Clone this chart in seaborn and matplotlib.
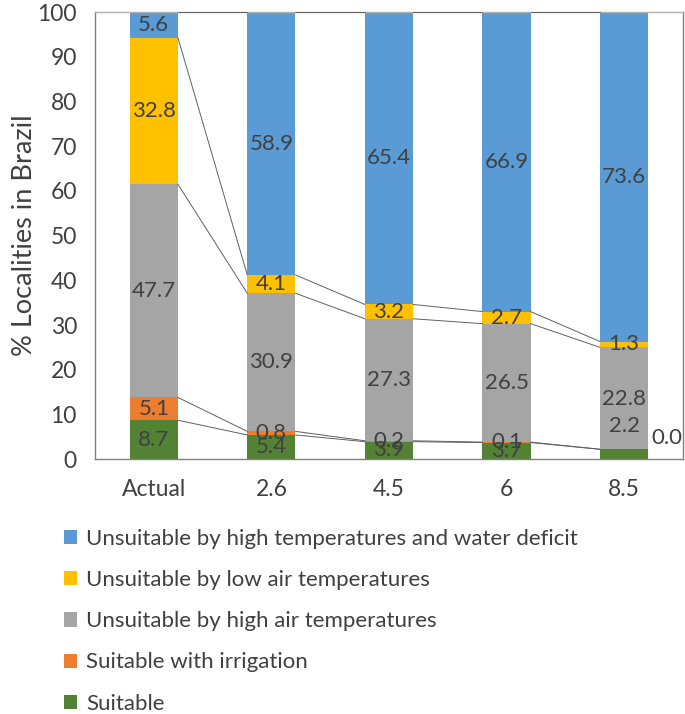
import numpy as np
import seaborn as sns
import matplotlib.pyplot as plt
from matplotlib.patches import Patch

scenarios = ["Actual", "2.6", "4.5", "6", "8.5"]
suitable = [8.7, 5.4, 3.9, 3.7, 2.2]
irrigation = [5.1, 0.8, 0.2, 0.1, 0.0]
high_air = [47.7, 30.9, 27.3, 26.5, 22.8]
low_air = [32.8, 4.1, 3.2, 2.7, 1.3]
water_deficit = [5.6, 58.9, 65.4, 66.9, 73.6]

names = ["Suitable", "Suitable with irrigation", "Unsuitable by high air temperatures",
         "Unsuitable by low air temperatures",
         "Unsuitable by high temperatures and water deficit"]
colors = ["#548235", "#ED7D31", "#A5A5A5", "#FFC000", "#5B9BD5"]

sns.set_style("white")
plt.rcParams['font.family'] = ['Lato', 'DejaVu Sans']
txt = "#404040"

layers = [suitable, irrigation, high_air, low_air, water_deficit]
vals = np.array(layers)
tops = vals.cumsum(axis=0)
tops[-1] = 100.0  # Excel-style 100% stacking
bottoms = np.vstack([np.zeros(len(scenarios)), tops[:-1]])

fig = plt.figure(figsize=(6.85, 7.14), dpi=100)
ax = fig.add_axes([0.1387, 0.357, 0.997 - 0.1387, 0.983 - 0.357])

w = 0.41
# draw from the tallest cumulative layer down so each shows its own segment
for i in range(len(layers) - 1, -1, -1):
    sns.barplot(x=scenarios, y=tops[i], color=colors[i], width=w,
                saturation=1, ax=ax, edgecolor="none", linewidth=0)

# series lines between bars
for i in range(len(layers)):
    for j in range(len(scenarios) - 1):
        ax.plot([j + w / 2, j + 1 - w / 2], [tops[i][j], tops[i][j + 1]],
                color="#606060", lw=0.7, zorder=3)

# data labels
for i in range(len(layers)):
    for j in range(len(scenarios)):
        y = (bottoms[i][j] + tops[i][j]) / 2
        x = j
        ha = "center"
        if j == 4 and i == 0:
            y = 7.4
        if j == 4 and i == 1:
            x, y, ha = j + w / 2 + 0.03, 4.7, "left"
        if j == 4 and i == 2:
            y = 13.5
        ax.text(x, y, f"{vals[i][j]:.1f}", ha=ha, va="center",
                fontsize=16, color=txt, zorder=4)

ax.set_ylim(0, 100)
ax.set_xlim(-0.5, 4.5)
ax.set_yticks(range(0, 101, 10))
ax.tick_params(axis="both", length=0, labelsize=16.5, colors=txt)
ax.tick_params(axis="y", pad=13)
ax.tick_params(axis="x", pad=14)
ax.set_ylabel("% Localities in Brazil", fontsize=19.5, color=txt, labelpad=0)
for s in ax.spines.values():
    s.set_color("#808080")
    s.set_linewidth(1)
ax.spines["top"].set_color("#b0b0b0")

handles = [Patch(facecolor=colors[i], edgecolor="none") for i in range(4, -1, -1)]
labels = [names[i] for i in range(4, -1, -1)]
fig.legend(handles, labels, loc="upper left", bbox_to_anchor=(0.093, 0.259),
           frameon=False, fontsize=16, handlelength=0.6, handleheight=0.6,
           handletextpad=0.4, labelspacing=0.95, labelcolor=txt,
           borderaxespad=0, borderpad=0)

fig.savefig("out.png", dpi=100)
